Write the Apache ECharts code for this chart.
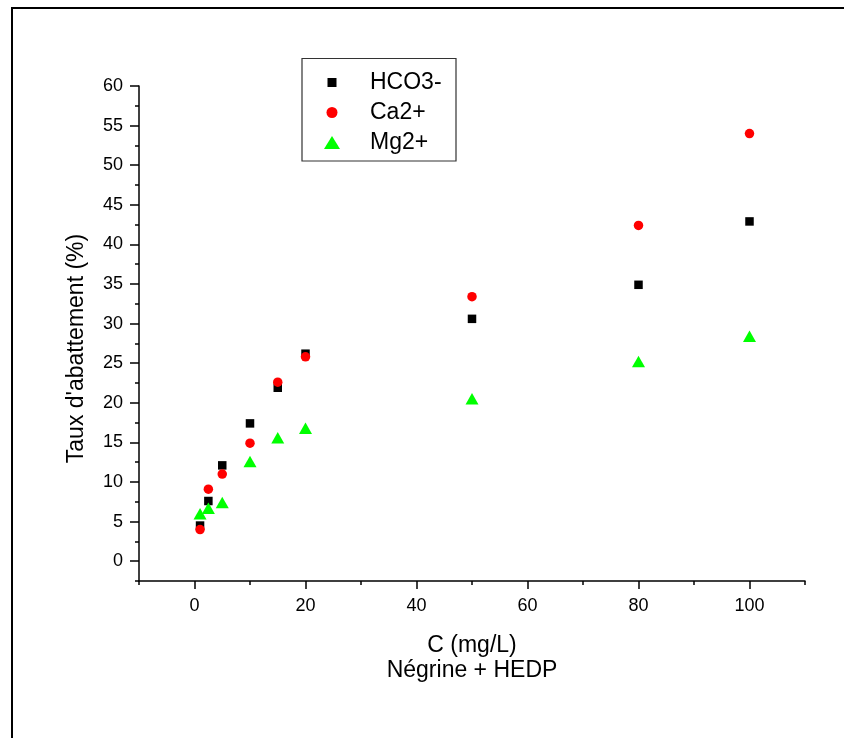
<!DOCTYPE html>
<html><head><meta charset="utf-8">
<script src="https://cdn.jsdelivr.net/npm/echarts@6/dist/echarts.min.js"></script>
<style>html,body{margin:0;padding:0;background:#fff}#c{width:844px;height:738px}</style>
</head><body><div id="c"></div>
<script>
// ---- data ----
const concentrations = [1, 2.5, 5, 10, 15, 20, 50, 80, 100];
const hco3 = [4.5, 7.6, 12.1, 17.4, 21.9, 26.2, 30.6, 34.9, 42.9];
const ca = [4.0, 9.1, 11.0, 14.9, 22.6, 25.8, 33.4, 42.4, 54.0];
const mg = [6.0, 6.7, 7.4, 12.6, 15.6, 16.8, 20.5, 25.2, 28.4];
const seriesNames = ['HCO3-', 'Ca2+', 'Mg2+'];
const xMajorTicks = [0, 20, 40, 60, 80, 100];
const xMinorTicks = [-10, 10, 30, 50, 70, 90, 110];
const yMajorTicks = [0, 5, 10, 15, 20, 25, 30, 35, 40, 45, 50, 55, 60];
const yMinorTicks = [-2.5, 2.5, 7.5, 12.5, 17.5, 22.5, 27.5, 32.5, 37.5, 42.5, 47.5, 52.5, 57.5];
const xTitle = 'C (mg/L)\nNégrine + HEDP';
const yTitle = "Taux d'abattement (%)";

const FONT = "'Liberation Sans', Arial, sans-serif";
const pairs = (ys) => concentrations.map((x, i) => [x, ys[i]]);
const lineStyle = { color: '#000', width: 1.5 };

const squareIcon = 'path://M0,0M16,13M3.5,2h9v9h-9z';
const circleIcon = 'path://M0,0M16,13M13.5,6.5A5.5,5.5,0,1,1,2.5,6.5A5.5,5.5,0,1,1,13.5,6.5z';

const chart = echarts.init(document.getElementById('c'), null, { renderer: 'canvas' });
chart.setOption({
  backgroundColor: '#fff',
  animation: false,
  textStyle: { fontFamily: FONT },
  grid: { left: 139, right: 39, top: 86, bottom: 157, containLabel: false },
  graphic: [
    { type: 'rect', shape: { x: 12, y: 8, width: 1000, height: 1000 }, style: { fill: null, stroke: '#000', lineWidth: 2 }, silent: true },
    { type: 'rect', shape: { x: 302, y: 58.5, width: 154, height: 102.5 }, style: { fill: null, stroke: '#333', lineWidth: 1.2 }, silent: true }
  ],
  legend: {
    orient: 'vertical', left: 324, top: 71, padding: 0,
    itemWidth: 16, itemHeight: 13, itemGap: 7,
    itemStyle: { opacity: 1 },
    textStyle: { fontSize: 23, color: '#000', lineHeight: 22, fontFamily: FONT, padding: [0, 0, 0, 25] },
    data: [
      { name: seriesNames[0], icon: squareIcon },
      { name: seriesNames[1], icon: circleIcon },
      { name: seriesNames[2], icon: 'triangle' }
    ]
  },
  xAxis: [
    {
      type: 'value', min: -10, max: 110, position: 'bottom',
      axisLine: { show: true, onZero: false, lineStyle },
      axisTick: { show: true, customValues: xMajorTicks, length: 8, lineStyle },
      axisLabel: { customValues: xMajorTicks, margin: 16, fontSize: 18, color: '#000', fontFamily: FONT },
      splitLine: { show: false },
      name: xTitle, nameLocation: 'middle', nameGap: 52,
      nameTextStyle: { fontSize: 23, lineHeight: 25, color: '#000', fontFamily: FONT }
    },
    {
      type: 'value', min: -10, max: 110, position: 'bottom',
      axisLine: { show: false, onZero: false },
      axisTick: { show: true, customValues: xMinorTicks, length: 4, lineStyle },
      axisLabel: { show: false },
      splitLine: { show: false }
    }
  ],
  yAxis: [
    {
      type: 'value', min: -2.5, max: 60, position: 'left',
      axisLine: { show: true, onZero: false, lineStyle },
      axisTick: { show: true, customValues: yMajorTicks, length: 9, lineStyle },
      axisLabel: { customValues: yMajorTicks, margin: 16, fontSize: 18, color: '#000', fontFamily: FONT },
      splitLine: { show: false },
      name: yTitle, nameLocation: 'middle', nameGap: 51,
      nameTextStyle: { fontSize: 23, lineHeight: 23, color: '#000', fontFamily: FONT, padding: [0, 30, 0, 0] }
    },
    {
      type: 'value', min: -2.5, max: 60, position: 'left',
      axisLine: { show: false, onZero: false },
      axisTick: { show: true, customValues: yMinorTicks, length: 4, lineStyle },
      axisLabel: { show: false },
      splitLine: { show: false }
    }
  ],
  series: [
    { name: seriesNames[0], type: 'scatter', data: pairs(hco3), symbol: 'rect', symbolSize: 8.5, itemStyle: { color: '#000', opacity: 1 } },
    { name: seriesNames[1], type: 'scatter', data: pairs(ca), symbol: 'circle', symbolSize: 9.5, itemStyle: { color: '#ff0000', opacity: 1 } },
    { name: seriesNames[2], type: 'scatter', data: pairs(mg), symbol: 'triangle', symbolSize: [13, 11.5], itemStyle: { color: '#00ff00', opacity: 1 } }
  ]
});
</script></body></html>
